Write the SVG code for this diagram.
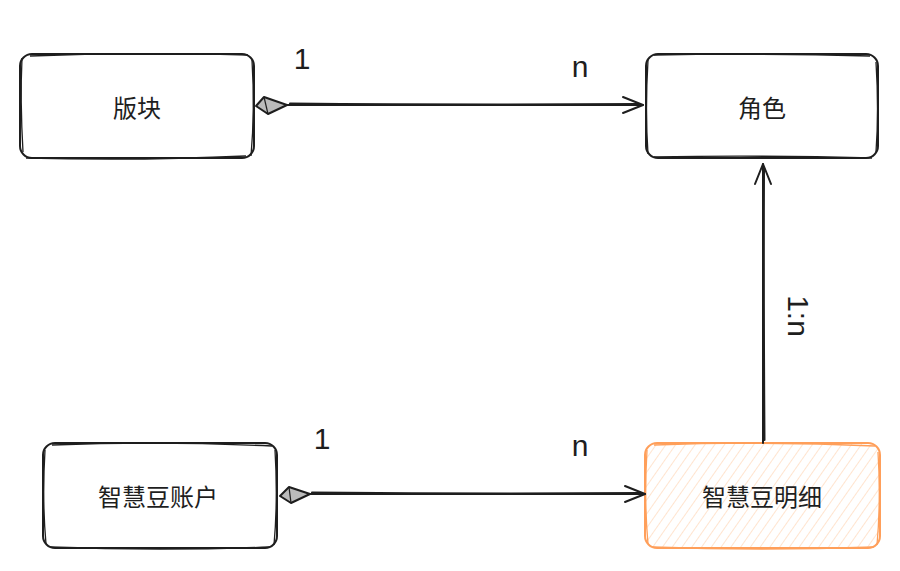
<svg xmlns="http://www.w3.org/2000/svg" width="900" height="571" viewBox="0 0 900 571">
<defs>
<pattern id="hatch" patternUnits="userSpaceOnUse" width="8" height="8" patternTransform="rotate(35)">
<line x1="0" y1="0" x2="0" y2="8" stroke="#ffc9a0" stroke-width="1"/>
</pattern>
<marker id="open" markerWidth="24" markerHeight="20" refX="22" refY="10" orient="auto" markerUnits="userSpaceOnUse">
<path d="M2,2 L22,10 L2,18" fill="none" stroke="#1e1e1e" stroke-width="2" stroke-linecap="round" stroke-linejoin="round"/>
</marker>
</defs>
<style>
.box{fill:none;stroke:#1e1e1e;stroke-width:2;stroke-linecap:round}
.box2{fill:none;stroke:#1e1e1e;stroke-width:1.3}
.obox{fill:url(#hatch);stroke:#ff9f5a;stroke-width:2}
.obox2{fill:none;stroke:#ff9f5a;stroke-width:1.3}
.lbl{font-family:"Noto Sans CJK SC","Noto Sans",sans-serif;font-size:24px;fill:#1e1e1e;text-anchor:middle;dominant-baseline:central}
.card{font-family:"Liberation Sans","DejaVu Sans",sans-serif;font-size:30px;fill:#1e1e1e;text-anchor:middle;dominant-baseline:central}
.edge{fill:none;stroke:#1e1e1e;stroke-width:2;stroke-linecap:round}
.dia{fill:#bbb;stroke:#1e1e1e;stroke-width:2;stroke-linejoin:round}
</style>
<g id="node-bankuai">
<rect class="box" x="20" y="54" width="234" height="104" rx="12"/>
<path class="box2" d="M22,58 Q20,100 23,152 M30,56 Q140,52 248,55 M252,60 Q255,110 251,156 M26,158 Q140,161 246,156"/>
<text class="lbl" x="137" y="106">版块</text>
</g>
<g id="node-juese">
<rect class="box" x="646" y="54" width="232" height="104" rx="12"/>
<path class="box2" d="M648,60 Q645,110 648,154 M654,55 Q760,53 870,56 M876,62 Q879,110 876,152 M654,157 Q760,155 872,158"/>
<text class="lbl" x="762" y="106">角色</text>
</g>
<g id="node-zhanghu">
<rect class="box" x="43" y="443" width="234" height="105" rx="12"/>
<path class="box2" d="M45,450 Q42,500 46,544 M52,445 Q160,441 272,446 M275,450 Q278,500 274,545 M50,547 Q160,551 270,547"/>
<text class="lbl" x="158" y="495">智慧豆账户</text>
</g>
<g id="node-mingxi">
<rect class="obox" x="645" y="443" width="235" height="105" rx="12"/>
<path class="obox2" d="M647,450 Q644,500 648,544 M654,445 Q760,441 875,446 M878,452 Q881,500 877,545 M652,547 Q760,551 874,547"/>
<text class="lbl" x="762" y="495">智慧豆明细</text>
</g>
<g id="connectors">
<path class="edge" d="M287,105 L643,105" marker-end="url(#open)"/>
<path class="edge" d="M290,103.5 Q460,105 640,104" stroke-width="1"/>
<path class="dia" d="M256,106 L264,97 L287,105 L268,114 Z"/>
<path d="M264,97 L268,114" stroke="#1e1e1e" stroke-width="1.2"/>
<text class="card" x="302" y="58" font-size="20">1</text>
<text class="card" x="580" y="66">n</text>

<path class="edge" d="M310,494 L645,494" marker-end="url(#open)"/>
<path class="edge" d="M312,492.5 Q480,494 642,493" stroke-width="1"/>
<path class="dia" d="M280,496 L289,487 L310,494 L291,503 Z"/>
<path d="M289,487 L291,503" stroke="#1e1e1e" stroke-width="1.2"/>
<text class="card" x="322" y="438" font-size="20">1</text>
<text class="card" x="580" y="445">n</text>

<path class="edge" d="M763,443 L763,164" marker-end="url(#open)"/>
<path class="edge" d="M764.5,440 Q763.5,300 764,168" stroke-width="1"/>
<text class="card" x="798" y="316" transform="rotate(90 798 316)">1:n</text>
</g>
</svg>
